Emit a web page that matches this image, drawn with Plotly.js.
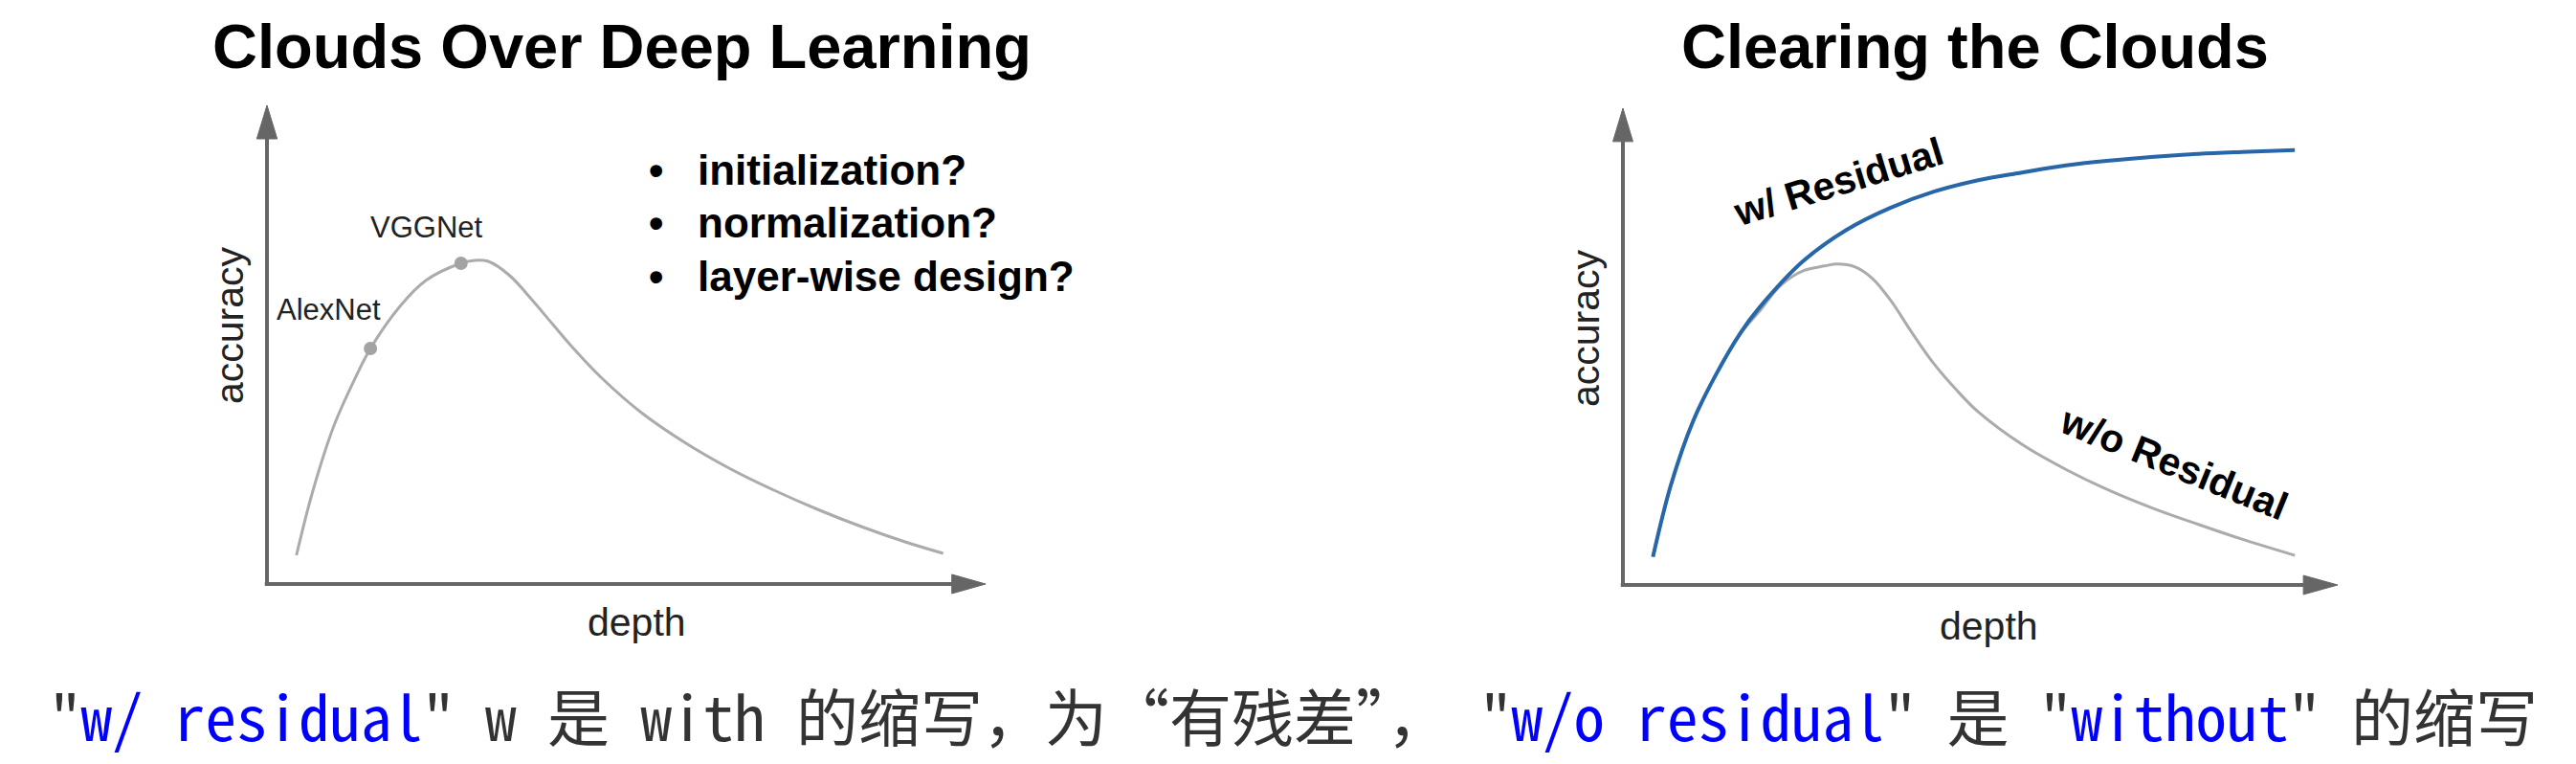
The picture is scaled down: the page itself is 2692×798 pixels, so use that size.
<!DOCTYPE html>
<html>
<head>
<meta charset="utf-8">
<script src="https://cdn.plot.ly/plotly-3.0.1.min.js"></script>
<style>
  html, body { margin: 0; padding: 0; background: #ffffff; }
  #chart { width: 2692px; height: 798px; }
</style>
</head>
<body>
<div id="chart"></div>
<script>
// ---------- data ----------
const leftTitle = 'Clouds Over Deep Learning';
const rightTitle = 'Clearing the Clouds';
const xLabel = 'depth';
const yLabel = 'accuracy';

// "Clouds Over Deep Learning" curve (depth vs accuracy, arbitrary units 0-10)
const plainDepthL = [0.41, 0.63, 0.93, 1.24, 1.44, 1.85, 2.21, 2.70, 2.89, 3.08, 3.38, 3.68, 3.98, 4.29, 4.66, 5.21, 5.82, 6.43, 7.04, 7.66, 8.27, 8.88, 9.41];
const plainAccL   = [0.60, 1.90, 3.30, 4.34, 4.92, 5.80, 6.34, 6.70, 6.76, 6.74, 6.44, 5.95, 5.42, 4.88, 4.30, 3.58, 2.95, 2.42, 1.97, 1.56, 1.20, 0.88, 0.64];

const milestoneNames = ['AlexNet', 'VGGNet'];
const milestoneDepth = [1.44, 2.70];
const milestoneAcc   = [4.92, 6.70];

const bulletItems = ['initialization?', 'normalization?', 'layer-wise design?'];

// "Clearing the Clouds" curves
const residDepth = [0.42, 0.67, 0.98, 1.29, 1.65, 1.90, 2.52, 3.13, 3.74, 4.35, 4.97, 5.58, 6.20, 6.81, 7.43, 8.05, 8.66, 9.40];
const residAcc   = [0.59, 2.09, 3.43, 4.38, 5.30, 5.80, 6.79, 7.45, 7.91, 8.25, 8.49, 8.65, 8.80, 8.90, 8.98, 9.04, 9.08, 9.12];

const plainDepthR = [0.42, 0.67, 0.98, 1.29, 1.65, 1.90, 2.21, 2.52, 2.82, 3.00, 3.25, 3.49, 3.74, 4.04, 4.35, 4.66, 4.97, 5.58, 6.20, 6.81, 7.43, 8.05, 8.66, 9.40];
const plainAccR   = [0.59, 2.09, 3.43, 4.38, 5.28, 5.72, 6.29, 6.59, 6.69, 6.73, 6.67, 6.43, 5.98, 5.30, 4.64, 4.10, 3.63, 2.95, 2.42, 1.98, 1.60, 1.27, 0.96, 0.62];

const residLabel = 'w/ Residual';
const plainLabel = 'w/o Residual';

// caption segments: [text, isHighlighted]
const captionParts = [
  ['"', false], ['w/ residual', true], ['" w 是 with 的缩写，为“有残差”， "', false],
  ['w/o residual', true], ['" 是 "', false], ['without', true], ['" 的缩写', false]
];

// ---------- layout helpers ----------
const W = 2692, H = 798;
const px = v => v / W;
const py = v => 1 - v / H;
const PAD = 0.6;   // extra range so the axis arrows are not clipped
// domain for an axis whose value 0 sits at pixel p0 and value 10 at pixel p10
function xDomain(p0, p10) { const u = (p10 - p0) / 10; return [px(p0 - PAD * u), px(p10 + PAD * u)]; }
function yDomain(p0, p10) { const u = (p0 - p10) / 10; return [py(p0 + PAD * u), py(p10 - PAD * u)]; }

const axisColor = '#666666';
const curveGray = '#ababab';
const sans = 'Liberation Sans, Arial, Helvetica, sans-serif';
const titleFont = {family: sans, size: 65, color: '#000000'};
const labelFont = {family: sans, size: 41, color: '#222222'};

function axisShapes(xa, ya, baseX, baseY, halfW, halfH) {
  return [
    {type: 'line', xref: xa, yref: ya, x0: 0, y0: -0.04, x1: 0, y1: baseY, line: {color: axisColor, width: 4}, layer: 'below'},
    {type: 'path', xref: xa, yref: ya, path: `M ${-halfW},${baseY} L ${halfW},${baseY} L 0,10 Z`, fillcolor: axisColor, line: {color: axisColor, width: 1}, layer: 'below'},
    {type: 'line', xref: xa, yref: ya, x0: -0.03, y0: 0, x1: baseX, y1: 0, line: {color: axisColor, width: 4}, layer: 'below'},
    {type: 'path', xref: xa, yref: ya, path: `M ${baseX},${-halfH} L ${baseX},${halfH} L 10,0 Z`, fillcolor: axisColor, line: {color: axisColor, width: 1}, layer: 'below'}
  ];
}

const traces = [
  {x: plainDepthL, y: plainAccL, xaxis: 'x', yaxis: 'y', mode: 'lines',
   line: {color: curveGray, width: 3, shape: 'spline', smoothing: 1}, hoverinfo: 'skip'},
  {x: milestoneDepth, y: milestoneAcc, xaxis: 'x', yaxis: 'y', mode: 'markers',
   marker: {color: '#a3a3a3', size: 14}, hoverinfo: 'skip'},
  {x: plainDepthR, y: plainAccR, xaxis: 'x2', yaxis: 'y2', mode: 'lines',
   line: {color: curveGray, width: 3, shape: 'spline', smoothing: 1}, hoverinfo: 'skip'},
  {x: residDepth, y: residAcc, xaxis: 'x2', yaxis: 'y2', mode: 'lines',
   line: {color: '#2766a8', width: 4, shape: 'spline', smoothing: 1}, hoverinfo: 'skip'}
];

const annotations = [];
// titles
annotations.push({xref: 'paper', yref: 'paper', x: px(650), y: py(48), text: '<b>' + leftTitle + '</b>', showarrow: false, xanchor: 'center', yanchor: 'middle', font: titleFont});
annotations.push({xref: 'paper', yref: 'paper', x: px(2064), y: py(48), text: '<b>' + rightTitle + '</b>', showarrow: false, xanchor: 'center', yanchor: 'middle', font: titleFont});
// axis labels
[[240, 340, 665, 650], [1657, 343, 2078, 654]].forEach(([ax, ay, dx, dy]) => {
  annotations.push({xref: 'paper', yref: 'paper', x: px(ax), y: py(ay), text: yLabel, textangle: -90, showarrow: false, xanchor: 'center', yanchor: 'middle', font: labelFont});
  annotations.push({xref: 'paper', yref: 'paper', x: px(dx), y: py(dy), text: xLabel, showarrow: false, xanchor: 'center', yanchor: 'middle', font: labelFont});
});
// milestone labels
const milestoneLabelPos = [[343, 323], [446, 237]];
milestoneNames.forEach((n, i) => {
  annotations.push({xref: 'paper', yref: 'paper', x: px(milestoneLabelPos[i][0]), y: py(milestoneLabelPos[i][1]), text: n, showarrow: false, xanchor: 'center', yanchor: 'middle',
    font: {family: sans, size: 31, color: '#222222'}});
});
// bullets
const bulletY = [178, 233, 289];
bulletItems.forEach((t, i) => {
  annotations.push({xref: 'paper', yref: 'paper', x: px(676), y: py(bulletY[i]), text: '<b>•</b>', showarrow: false, xanchor: 'left', yanchor: 'middle',
    font: {family: sans, size: 44, color: '#000000'}});
  annotations.push({xref: 'paper', yref: 'paper', x: px(727), y: py(bulletY[i]), text: '<b>' + t + '</b>', showarrow: false, xanchor: 'left', yanchor: 'middle',
    font: {family: sans, size: 44, color: '#000000'}});
});
// curve labels
annotations.push({xref: 'paper', yref: 'paper', x: px(1921), y: py(190), text: '<b>' + residLabel + '</b>', textangle: -17, showarrow: false, xanchor: 'center', yanchor: 'middle',
  font: {family: sans, size: 41, color: '#000000'}});
annotations.push({xref: 'paper', yref: 'paper', x: px(2272), y: py(484), text: '<b>' + plainLabel + '</b>', textangle: 22, showarrow: false, xanchor: 'center', yanchor: 'middle',
  font: {family: sans, size: 41, color: '#000000'}});
// caption
const captionHTML = captionParts.map(([t, hi]) => hi ? `<span style="color:#0000ff">${t}</span>` : t).join('');
annotations.push({xref: 'paper', yref: 'paper', x: px(1352), y: py(746), text: captionHTML, showarrow: false, xanchor: 'center', yanchor: 'middle',
  font: {family: '"Noto Sans Mono CJK SC", "Noto Sans CJK SC", monospace', size: 65, color: '#333333'}});

const hidden = {visible: false, fixedrange: true, range: [-PAD, 10 + PAD]};
const layout = {
  width: W, height: H,
  margin: {l: 0, r: 0, t: 0, b: 0, pad: 0},
  paper_bgcolor: '#ffffff', plot_bgcolor: 'rgba(0,0,0,0)',
  showlegend: false,
  xaxis:  Object.assign({}, hidden, {domain: xDomain(279, 1030), anchor: 'y'}),
  yaxis:  Object.assign({}, hidden, {domain: yDomain(610, 110), anchor: 'x'}),
  xaxis2: Object.assign({}, hidden, {domain: xDomain(1696, 2443), anchor: 'y2'}),
  yaxis2: Object.assign({}, hidden, {domain: yDomain(611, 113), anchor: 'x2'}),
  shapes: axisShapes('x', 'y', 9.53, 9.3, 0.142, 0.2).concat(axisShapes('x2', 'y2', 9.52, 9.3, 0.14, 0.2)),
  annotations: annotations
};

Plotly.newPlot('chart', traces, layout, {staticPlot: true, displayModeBar: false});
</script>
</body>
</html>
